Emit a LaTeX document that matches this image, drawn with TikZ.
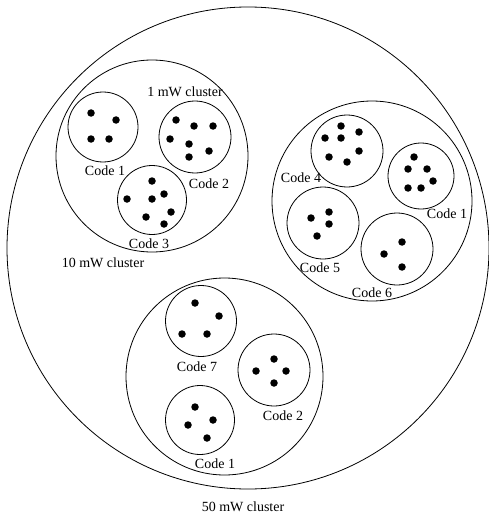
\documentclass[tikz,border=0pt]{standalone}
\usepackage{fontspec}
\setmainfont{Liberation Serif}
\begin{document}
\begin{tikzpicture}[x=1pt,y=-1pt,
  ring/.style={draw,circle,line width=0.8pt,inner sep=0pt},
  dot/.style={fill,circle,inner sep=0pt,minimum size=7.5pt},
  lbl/.style={font=\fontsize{14}{16}\selectfont,inner sep=0pt}]
\useasboundingbox (0,0) rectangle (488,516);
% big cluster
\node[ring,minimum size=482pt] (big) at (248,248) {};
\node[lbl] (t50) at (243,507) {50 mW cluster};
% 10 mW cluster
\node[ring,minimum size=192pt] (c10) at (152,156) {};
\node[lbl] (t10) at (103,263) {10 mW cluster};
\node[lbl] (t1) at (185,92) {1 mW cluster};
\node[ring,minimum size=70pt] (a1) at (103,127) {};
\foreach \p [count=\i] in {(91,113),(116,120),(91,139),(109,139)} \node[dot] (a1d\i) at \p {};
\node[lbl] (a1t) at (105,171) {Code 1};
\node[ring,minimum size=72pt] (a2) at (195,137) {};
\foreach \p [count=\i] in {(176,120),(194,126),(213,126),(170,139),(189,144),(209,151),(189,157)} \node[dot] (a2d\i) at \p {};
\node[lbl] (a2t) at (209,184) {Code 2};
\node[ring,minimum size=69pt] (a3) at (152,200) {};
\foreach \p [count=\i] in {(152,181),(127,199),(152,199),(164,194),(171,212),(146,217),(164,224)} \node[dot] (a3d\i) at \p {};
\node[lbl] (a3t) at (149,244) {Code 3};
% right cluster
\node[ring,minimum size=200pt] (cr) at (372,201) {};
\node[ring,minimum size=72pt] (b4) at (347,151) {};
\foreach \p [count=\i] in {(341,126),(325,138),(341,138),(359,132),(329,157),(359,151),(347,162)} \node[dot] (b4d\i) at \p {};
\node[lbl] (b4t) at (301,178) {Code 4};
\node[ring,minimum size=66pt] (b1) at (421,176) {};
\foreach \p [count=\i] in {(414,157),(408,169),(427,169),(433,181),(408,188),(421,188)} \node[dot] (b1d\i) at \p {};
\node[lbl] (b1t) at (447,214) {Code 1};
\node[ring,minimum size=72pt] (b5) at (323,223) {};
\foreach \p [count=\i] in {(329,212),(311,218),(329,224),(317,236)} \node[dot] (b5d\i) at \p {};
\node[lbl] (b5t) at (320,268) {Code 5};
\node[ring,minimum size=72pt] (b6) at (397,249) {};
\foreach \p [count=\i] in {(402,242),(384,254),(402,267)} \node[dot] (b6d\i) at \p {};
\node[lbl] (b6t) at (372,293) {Code 6};
% bottom cluster
\node[ring,minimum size=197pt] (cb) at (224.5,376.5) {};
\node[ring,minimum size=71pt] (c7) at (201,321) {};
\foreach \p [count=\i] in {(195,303),(219,316),(182,334),(207,334)} \node[dot] (c7d\i) at \p {};
\node[lbl] (c7t) at (197,367) {Code 7};
\node[ring,minimum size=72pt] (c2) at (274,370) {};
\foreach \p [count=\i] in {(274,359),(256,371),(286,371),(274,383)} \node[dot] (c2d\i) at \p {};
\node[lbl] (c2t) at (283,416) {Code 2};
\node[ring,minimum size=69pt] (c1) at (200,420) {};
\foreach \p [count=\i] in {(195,407),(213,420),(188,425),(207,438)} \node[dot] (c1d\i) at \p {};
\node[lbl] (c1t) at (215,464) {Code 1};
\end{tikzpicture}
\end{document}
